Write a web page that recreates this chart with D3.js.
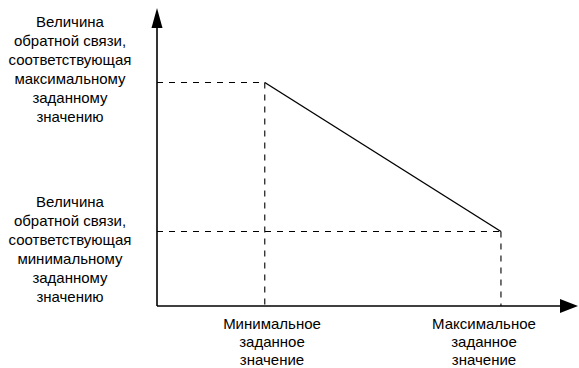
<!DOCTYPE html>
<html><head><meta charset="utf-8">
<script src="https://d3js.org/d3.v7.min.js"></script>
<style>html,body{margin:0;padding:0;background:#fff;}</style>
</head><body>
<svg id="c" width="579" height="368"></svg>
<script>
// Data
const setpoints = [25.6, 81.7];          // min, max setpoint (x)
const feedback = [75, 25];               // feedback at min, max setpoint (y)
const yLabelHigh = ["Величина", "обратной связи,", "соответствующая", "максимальному", "заданному", "значению"];
const yLabelLow = ["Величина", "обратной связи,", "соответствующая", "минимальному", "заданному", "значению"];
const xLabelMin = ["Минимальное", "заданное", "значение"];
const xLabelMax = ["Максимальное", "заданное", "значение"];

const svg = d3.select("#c");
const x = d3.scaleLinear().domain([0, 100]).range([157, 578]);
const y = d3.scaleLinear().domain([0, 100]).range([306, 8]);
const font = "'Liberation Sans', Arial, sans-serif";

// dashed guides
const g = svg.append("g").attr("stroke", "#000").attr("stroke-width", 1.1).attr("stroke-dasharray", "6,6").attr("fill", "none");
setpoints.forEach((s, i) => {
  g.append("line").attr("x1", x(0)).attr("x2", x(s)).attr("y1", y(feedback[i])).attr("y2", y(feedback[i]));
  g.append("line").attr("x1", x(s)).attr("x2", x(s)).attr("y1", y(feedback[i])).attr("y2", y(0));
});

// main line
svg.append("path")
  .datum(setpoints.map((s, i) => [s, feedback[i]]))
  .attr("d", d3.line().x(d => x(d[0])).y(d => y(d[1])))
  .attr("stroke", "#000").attr("stroke-width", 1.4).attr("fill", "none");

// axes
svg.append("line").attr("x1", x(0)).attr("x2", x(100) - 16).attr("y1", y(0)).attr("y2", y(0)).attr("stroke", "#000").attr("stroke-width", 1.6);
svg.append("line").attr("x1", x(0)).attr("x2", x(0)).attr("y1", y(0)).attr("y2", y(100) + 18).attr("stroke", "#000").attr("stroke-width", 1.6);
svg.append("path").attr("d", `M${x(100)},${y(0)} L${x(100) - 18},${y(0) - 7} L${x(100) - 18},${y(0) + 7} Z`).attr("fill", "#000");
svg.append("path").attr("d", `M${x(0)},${y(100)} L${x(0) - 5.5},${y(100) + 20} L${x(0) + 5.5},${y(100) + 20} Z`).attr("fill", "#000");

function block(lines, cx, base, step) {
  svg.append("text").attr("font-family", font).attr("font-size", 15).attr("text-anchor", "middle").attr("fill", "#000")
    .selectAll("tspan").data(lines).join("tspan")
    .attr("x", cx).attr("y", (d, i) => base + i * step).text(d => d);
}
block(yLabelHigh, 70, 27, 19);
block(yLabelLow, 70, 207, 19);
block(xLabelMin, 272, 329, 18);
block(xLabelMax, 484, 329, 18);
</script>
</body></html>
